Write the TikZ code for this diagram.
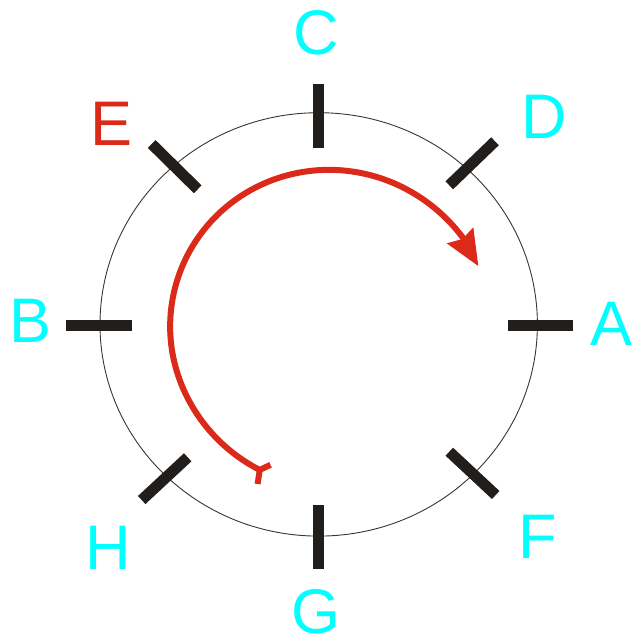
\documentclass[tikz,border=0pt]{standalone}
\usepackage{fontspec}
\setmainfont{Liberation Sans}
\definecolor{ringred}{RGB}{220,42,26}
\definecolor{labelcyan}{RGB}{0,255,255}
\definecolor{tickblack}{RGB}{34,30,27}
\begin{document}
\begin{tikzpicture}[x=1pt,y=-1pt,
  ring/.style={draw=tickblack!90, line width=0.9pt},
  tickmark/.style={draw=tickblack, line width=11pt},
  letter/.style={anchor=base, inner sep=0pt, font=\fontsize{63}{63}\selectfont},
  pathred/.style={draw=ringred, line width=6pt},
  declare function={rr(\t)=149.6+(\t>199?0.2:0.07)*((\t-199)/10)^2;}]
  \useasboundingbox (0,0) rectangle (631,641);
  % outer ring
  \draw[ring] (318.7,324.4) ellipse [x radius=218.7, y radius=211.7];
  % tick marks
  \draw[tickmark] (507.7,325) -- (573.3,325);   % A
  \draw[tickmark] (66,325) -- (132,325);        % B
  \draw[tickmark] (318.8,84.3) -- (318.8,148.3);% C
  \draw[tickmark] (495,141.3) -- (449.3,185.3); % D
  \draw[tickmark] (151.7,144) -- (197.7,189.3); % E
  \draw[tickmark] (449.3,451.7) -- (495.7,495); % F
  \draw[tickmark] (318.8,505) -- (318.8,569.3); % G
  \draw[tickmark] (187.7,457.3) -- (141.7,500); % H
  % labels
  \node[letter, text=labelcyan] (lA) at (612,345) {A};
  \node[letter, text=labelcyan] (lB) at (30.7,342.5) {B};
  \node[letter, text=labelcyan] (lC) at (316,54) {C};
  \node[letter, text=labelcyan] (lD) at (544,138.5) {D};
  \node[letter, text=ringred]   (lE) at (111.7,145.5) {E};
  \node[letter, text=labelcyan] (lF) at (538,558.5) {F};
  \node[letter, text=labelcyan] (lG) at (316,633) {G};
  \node[letter, text=labelcyan] (lH) at (108,569) {H};
  % red rotation arrow: an open spiral about (320,328)
  \coordinate (tail) at ({320+rr(247)*cos(247)},{328-rr(247)*sin(247)});
  \draw[pathred, line join=round] plot[smooth, domain=31.5:247, samples=90, variable=\t]
    ({320+rr(\t)*cos(\t)},{328-rr(\t)*sin(\t)});
  % fork at the start
  \draw[pathred] (tail) -- (270.5,464.8);
  \draw[pathred] (tail) -- (257.6,484);
  % arrowhead at the end
  \fill[ringred] (478.3,266) -- (446.7,243.3) -- (462.5,239) -- (473.3,227.3) -- cycle;
\end{tikzpicture}
\end{document}
